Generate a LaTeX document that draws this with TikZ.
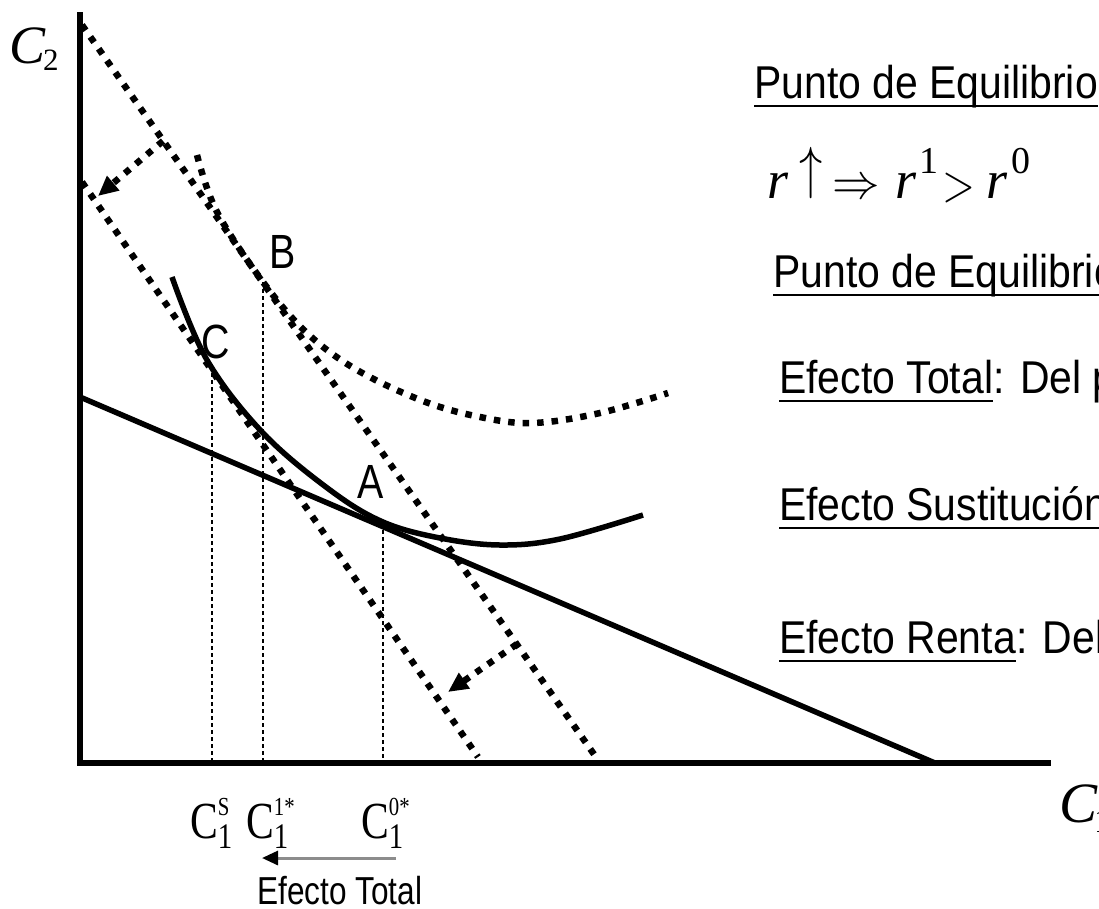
\RequirePackage{fix-cm}
\documentclass[tikz,border=0pt]{standalone}
\usepackage{fontspec}
\usepackage{graphicx}
\setmainfont{Liberation Serif}
\newfontfamily\sansf{Liberation Sans}
\usetikzlibrary{arrows.meta}
\newcommand{\rtxt}[1]{\scalebox{0.89}[1]{\fontsize{46}{50}\selectfont\sansf #1}}
\newcommand{\ptl}[1]{\scalebox{0.82}[1]{\fontsize{48}{48}\selectfont\sansf #1}}
\newcommand{\clab}[1]{\scalebox{0.8}[1]{\fontsize{52}{52}\selectfont C\rlap{\raisebox{-10pt}{\fontsize{36}{36}\selectfont 1}}\raisebox{23pt}{\fontsize{26}{26}\selectfont #1}}}
\begin{document}
\begin{tikzpicture}[x=1pt,y=-1pt,
  axis/.style={line width=6pt},
  solidln/.style={line width=5.5pt},
  dotln/.style={line width=6.5pt, dash pattern=on 6.5pt off 8pt},
  guide/.style={line width=1.5pt, dash pattern=on 4pt off 3pt},
  lbl/.style={inner sep=0pt, anchor=base west},
  uline/.style={line width=2.5pt},
  tipb/.style={-{Triangle[length=20pt,width=18pt]}}
]
\useasboundingbox (0,0) rectangle (1099,908);
\clip (0,0) rectangle (1099,908);
\fill[white] (0,0) rectangle (1099,908);

% coordinates
\coordinate (Ytop) at (80,12);
\coordinate (Ybot) at (80,766);
\coordinate (Xs) at (77,763);
\coordinate (Xe) at (1051,763);
\coordinate (b0s) at (80,397);
\coordinate (b0e) at (935,763);
\coordinate (b1s) at (82,25);
\coordinate (b1e) at (598,760);
\coordinate (b2s) at (82,182);
\coordinate (b2e) at (478,757);
\coordinate (ar1s) at (163,141);
\coordinate (ar1e) at (98,196);
\coordinate (ar2s) at (517,644);
\coordinate (ar2e) at (448,692);
\coordinate (A) at (383,523);
\coordinate (B) at (263,282);
\coordinate (C) at (212,366);

% axes
\draw[axis] (Ytop) -- (Ybot);
\draw[axis] (Xs) -- (Xe);

% budget lines
\draw[solidln] (b0s) -- (b0e);
\draw[dotln] (b1s) -- (b1e);
\draw[dotln] (b2s) -- (b2e);

% shift arrows
\draw[dotln, tipb] (ar1s) -- (ar1e);
\draw[dotln, tipb] (ar2s) -- (ar2e);

% indifference curves
\draw[solidln] plot[smooth, tension=0.6] coordinates {(172,277) (207,360) (263,433) (330,490) (383,522) (440,538) (500,545) (560,539) (643,515)};
\draw[dotln] plot[smooth, tension=0.6] coordinates {(197,155) (217,212) (263,282) (307,333) (357,370) (423,401) (480,417) (533,423) (600,413) (668,393)};

% guides
\draw[guide] (C) -- (C |- Xs);
\draw[guide] (B) -- (B |- Xs);
\draw[guide] (A) -- (A |- Xs);

% point labels
\node[lbl] (lB) at (269,268) {\ptl{B}};
\node[lbl] (lC) at (201,358) {\ptl{C}};
\node[lbl] (lA) at (357,498) {\ptl{A}};

% axis labels
\node[lbl] (c2a) at (9,63) {\fontsize{54}{54}\selectfont\itshape C};
\node[lbl] (c2b) at (43,70) {\fontsize{31}{31}\selectfont 2};
\node[lbl] (c1a) at (1059,822) {\fontsize{57}{57}\selectfont\itshape C};
\node[lbl] (c1b) at (1094,832) {\fontsize{34}{34}\selectfont 1};

% bottom labels
\node[lbl] (cs) at (190,838) {\clab{S}};
\node[lbl] (c1s) at (246,838) {\clab{1*}};
\node[lbl] (c0s) at (361,838) {\clab{0*}};
\coordinate (etR) at (396,858);
\coordinate (etL) at (262,858);
\draw[line width=3pt, draw=black!45, -{Triangle[length=16pt,width=14pt,color=black]}] (etR) -- (etL);
\node[lbl] (et) at (257,904) {\scalebox{0.81}[1]{\fontsize{39}{39}\selectfont\sansf Efecto Total}};

% right text
\node[lbl] (t1) at (754,98) {\rtxt{Punto de Equilibrio}};
\draw[uline] ([yshift=-8pt]t1.base west) -- ([yshift=-8pt]t1.base east);

\node[lbl] (f1) at (767,198) {\fontsize{54}{54}\selectfont\itshape r};
\node[lbl] (f2) at (799,187) {\scalebox{0.8}[1]{\fontsize{58}{58}\selectfont$\uparrow$}};
\node[lbl] (f3) at (832,198) {\scalebox{0.95}[1]{\fontsize{50}{50}\selectfont$\Rightarrow$}};
\node[lbl] (f4) at (895,198) {\fontsize{54}{54}\selectfont\itshape r};
\node[lbl] (f5) at (919,173) {\fontsize{38}{38}\selectfont 1};
\node[lbl] (f6) at (942,201) {\scalebox{0.8}[1]{\fontsize{54}{54}\selectfont$>$}};
\node[lbl] (f7) at (986,198) {\fontsize{54}{54}\selectfont\itshape r};
\node[lbl] (f8) at (1011,173) {\fontsize{38}{38}\selectfont 0};

\node[lbl] (t2) at (773,287) {\rtxt{Punto de Equilibrio}};
\draw[uline] ([yshift=-8pt]t2.base west) -- ([yshift=-8pt]t2.base east);

\node[lbl] (t3) at (779,393) {\rtxt{Efecto Total}};
\node[lbl] (t3b) at (t3.base east) {\rtxt{: Del p}};
\draw[uline] ([yshift=-8pt]t3.base west) -- ([yshift=-8pt]t3.base east);

\node[lbl] (t4) at (779,520) {\rtxt{Efecto Sustitución}};
\draw[uline] ([yshift=-8pt]t4.base west) -- ([yshift=-8pt]t4.base east);

\node[lbl] (t5) at (779,653) {\rtxt{Efecto Renta}};
\node[lbl] (t5b) at (t5.base east) {\rtxt{: Del}};
\draw[uline] ([yshift=-8pt]t5.base west) -- ([yshift=-8pt]t5.base east);
\end{tikzpicture}
\end{document}
